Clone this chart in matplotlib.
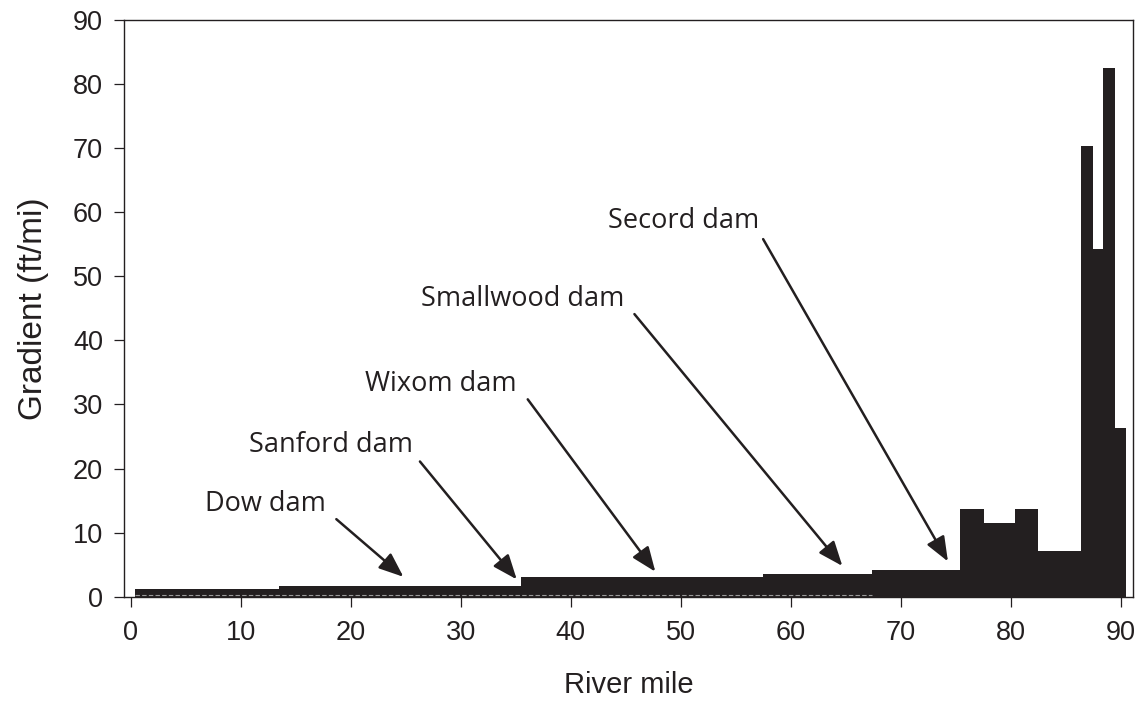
import matplotlib
matplotlib.use("Agg")
import matplotlib.pyplot as plt
import numpy as np

# step segments of the river profile: left edge, right edge, gradient (ft/mi)
seg_start = [0.4, 13.5, 35.5, 57.5, 67.4, 75.4, 77.6, 80.4, 82.5, 86.4, 87.5, 88.4, 89.5]
seg_end = [13.5, 35.5, 57.5, 67.4, 75.4, 77.6, 80.4, 82.5, 86.4, 87.5, 88.4, 89.5, 90.5]
gradient = [1.2, 1.7, 3.0, 3.5, 4.1, 13.7, 11.5, 13.7, 7.2, 70.3, 54.3, 82.5, 26.3]

# dam labels: text position, arrow tail and arrow tip in data coords
dam_names = ["Dow dam", "Sanford dam", "Wixom dam", "Smallwood dam", "Secord dam"]
text_xy = [(12.3, 14.5), (18.2, 23.6), (28.2, 33.2), (35.6, 46.5), (50.3, 58.6)]
tail_xy = [(18.7, 12.1), (26.3, 21.1), (36.1, 30.8), (45.8, 44.1), (57.5, 55.8)]
tip_xy = [(24.8, 3.1), (35.1, 2.7), (47.7, 3.9), (64.7, 4.8), (74.3, 5.5)]

INK = "#231f20"

fig = plt.figure(figsize=(11.42, 7.08), dpi=100)
ax = fig.add_axes([0.1086, 0.1572, 0.8833, 0.8146])

starts = np.array(seg_start)
widths = np.array(seg_end) - starts
ax.bar(starts, gradient, width=widths, align="edge", color=INK, edgecolor="none", zorder=2)
ax.hlines(0.25, seg_start[0], seg_end[3], colors="#9a9a9a", linestyles=(0, (4, 2)),
          linewidth=0.8, zorder=3)

for name, txy, tail, tip in zip(dam_names, text_xy, tail_xy, tip_xy):
    ax.text(txy[0], txy[1], name, ha="center", va="center", fontsize=19.5,
            family="Open Sans", color=INK)
    ax.annotate("", xy=tip, xytext=tail,
                arrowprops=dict(arrowstyle="-|>,head_length=0.75,head_width=0.3",
                                mutation_scale=20, color=INK, lw=1.8,
                                shrinkA=0, shrinkB=0))

ax.set_xlim(-0.6, 91.1)
ax.set_ylim(0, 90)
ax.set_xticks(np.arange(0, 91, 10))
ax.set_yticks(np.arange(0, 91, 10))

for s in ax.spines.values():
    s.set_linewidth(1.0)
    s.set_color(INK)

ax.tick_params(axis="both", direction="out", length=7, width=0.9, color=INK,
               labelsize=19.5, labelcolor=INK)
ax.tick_params(axis="x", pad=10)
ax.tick_params(axis="y", pad=8)
for lab in ax.get_xticklabels() + ax.get_yticklabels():
    lab.set_family("Liberation Sans")

ax.set_xlabel("River mile", fontsize=21, family="Liberation Sans", color=INK, labelpad=18)
ax.set_ylabel("Gradient (ft/mi)", fontsize=24, family="Liberation Sans", color=INK, labelpad=17)

fig.savefig("out.png", dpi=100)
